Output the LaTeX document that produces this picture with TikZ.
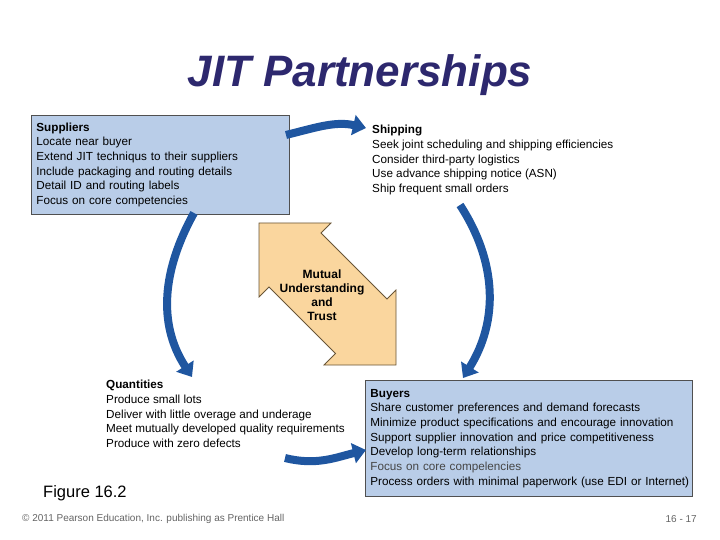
\documentclass[tikz,border=0pt]{standalone}
\usepackage{fontspec}
\setmainfont{Liberation Sans}
\usetikzlibrary{arrows.meta}
\definecolor{boxblue}{RGB}{185,205,232}
\definecolor{boxline}{RGB}{80,80,80}
\definecolor{flowblue}{RGB}{31,86,160}
\definecolor{trustfill}{RGB}{250,214,158}
\definecolor{trustline}{RGB}{105,85,55}
\definecolor{titleblue}{RGB}{45,40,110}
\definecolor{footgray}{RGB}{100,100,100}
\definecolor{softtext}{RGB}{70,70,70}

\begin{document}
\begin{tikzpicture}[
  x=1pt, y=-1pt,
  list/.style={
    align=left,
    inner sep=0pt,
    anchor=north west,
    font=\fontsize{11.7}{14.7}\selectfont
  },
  list_box/.style={
    list,
    draw=boxline,
    fill=boxblue,
    line width=0.8pt,
    inner xsep=5pt,
    inner ysep=0pt
  },
  flow/.style={
    draw,
    line width=8pt,
    color=flowblue,
    -{Triangle[width=20pt,length=13pt]}
  },
  trust/.style={
    draw=trustline,
    fill=trustfill,
    line width=0.8pt,
    line join=miter
  },
  foot/.style={
    inner sep=0pt,
    color=footgray,
    font=\fontsize{10}{11}\selectfont
  }
]%
\useasboundingbox (0,0) rectangle (720,540);

\node [anchor=base, color=titleblue, font=\fontsize{44}{50}\selectfont\bfseries\itshape] (title) at (360,87) {JIT Partnerships};

\node [list_box, text width=248pt, minimum height=99pt] (suppliers) at (31,115) {%
  \textbf{Suppliers}\\
  Locate near buyer\\
  Extend JIT techniqus to their suppliers\\
  Include packaging and routing details\\
  Detail ID and routing labels\\
  Focus on core competencies};

\node [list] (shipping) at (372,125) {%
  \textbf{Shipping}\\
  Seek joint scheduling and shipping efficiencies\\
  Consider third-party logistics\\
  Use advance shipping notice (ASN)\\
  Ship frequent small orders};

\node [list] (quantities) at (106,380) {%
  \textbf{Quantities}\\
  Produce small lots\\
  Deliver with little overage and underage\\
  Meet mutually developed quality requirements\\
  Produce with zero defects};

\node [list_box, text width=317pt, minimum height=116pt] (buyers) at (365,380) {%
  \textbf{Buyers}\\
  Share customer preferences and demand forecasts\\
  Minimize product specifications and encourage innovation\\
  Support supplier innovation and price competitiveness\\
  Develop long-term relationships\\
  \textcolor{softtext}{Focus on core compelencies}\\
  \mbox{Process orders with minimal paperwork (use EDI or Internet)}};

% double arrow in the middle
\coordinate (ul_tip) at (259,223);
\coordinate (lr_tip) at (396,365);
\draw [trust] (ul_tip) -- (331,223) -- (321,233) -- (387,299) -- (396,290)
  -- (lr_tip) -- (324,365) -- (335.5,353.5) -- (269,287) -- (259,297) -- cycle;
\node [align=center, inner sep=0pt, font=\fontsize{12}{14}\selectfont\bfseries] (trust_text) at (322,295) {Mutual\\Understanding\\and\\Trust};

% cycle arrows
\coordinate (top_from) at (286,135);
\coordinate (top_to) at (366,128);
\coordinate (right_from) at (460,205);
\coordinate (right_to) at (463,378);
\coordinate (bottom_from) at (285,458);
\coordinate (bottom_to) at (366,450);
\coordinate (left_from) at (194,213);
\coordinate (left_to) at (192,377);
\draw [flow] (top_from) to [out=14, in=167] (top_to);
\draw [flow] (right_from) to [out=-57, in=58] (right_to);
\draw [flow] (bottom_from) to [out=-14, in=194] (bottom_to);
\draw [flow] (left_from) to [out=241, in=123] (left_to);

\node [anchor=west, inner sep=0pt, font=\fontsize{16.5}{18}\selectfont] (figure) at (43,493) {Figure 16.2};
\node [foot, anchor=west] (copyright) at (22,519) {\textcopyright{} 2011 Pearson Education, Inc. publishing as Prentice Hall};
\node [foot, anchor=east] (page) at (697,519) {16 - 17};
\end{tikzpicture}
\end{document}
